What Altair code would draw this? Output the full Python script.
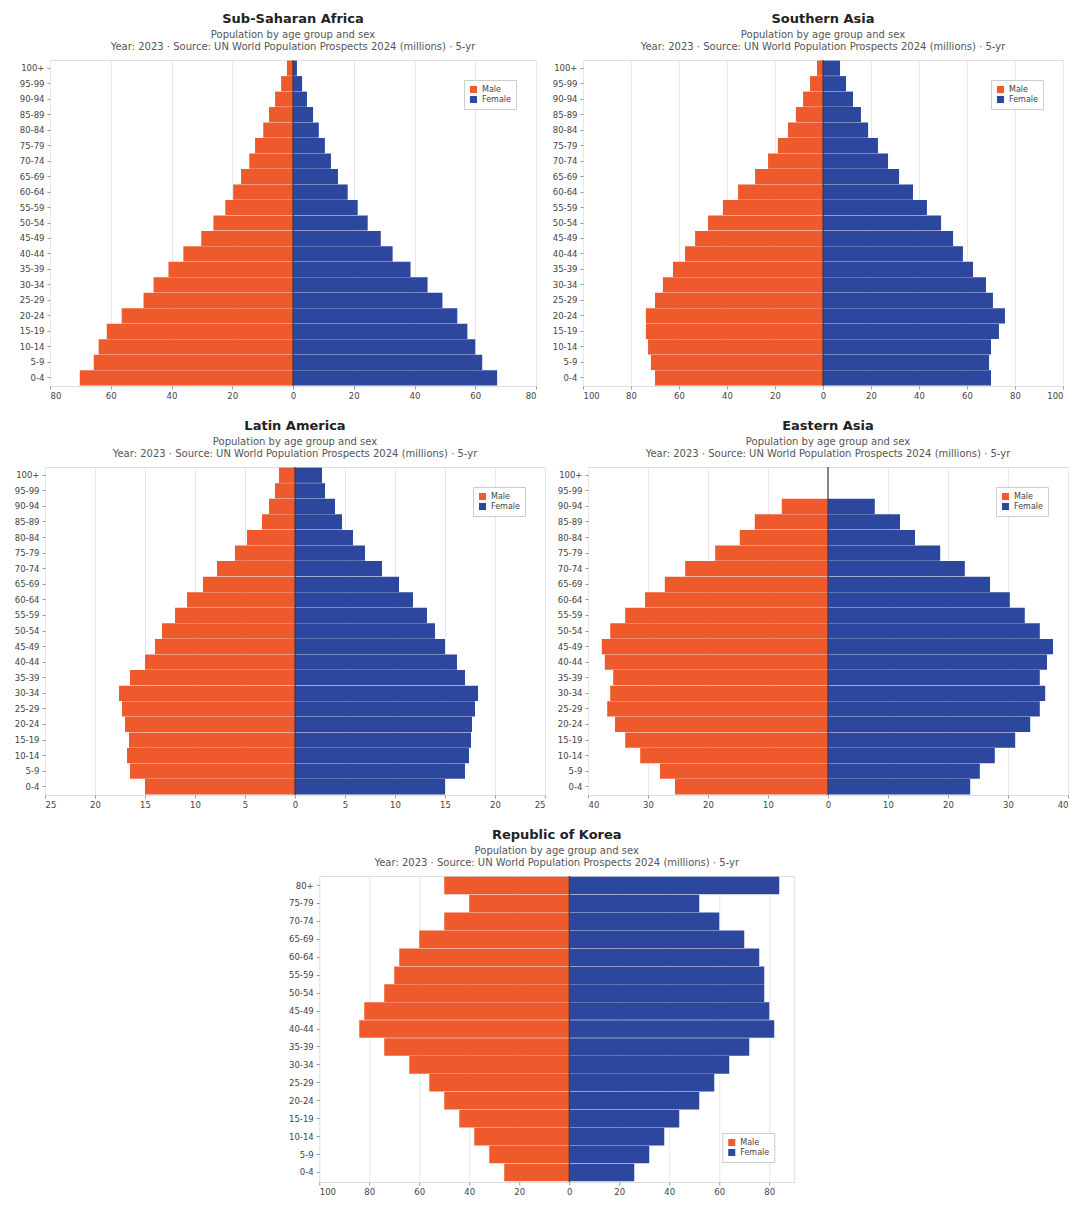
import altair as alt
import pandas as pd

AGES_21 = ["0-4", "5-9", "10-14", "15-19", "20-24", "25-29", "30-34", "35-39",
           "40-44", "45-49", "50-54", "55-59", "60-64", "65-69", "70-74",
           "75-79", "80-84", "85-89", "90-94", "95-99", "100+"]
AGES_17 = ["0-4", "5-9", "10-14", "15-19", "20-24", "25-29", "30-34", "35-39",
           "40-44", "45-49", "50-54", "55-59", "60-64", "65-69", "70-74",
           "75-79", "80+"]

# Panel 1
P1_MALE = [70.2, 65.6, 64.0, 61.3, 56.4, 49.2, 45.9, 41.0, 36.1, 30.2, 26.2,
           22.3, 19.7, 17.1, 14.4, 12.5, 9.8, 7.9, 5.9, 3.9, 2.0]
P1_FEMALE = [67.2, 62.3, 60.0, 57.4, 54.1, 49.2, 44.3, 38.7, 32.8, 28.9, 24.6,
             21.3, 18.0, 14.8, 12.5, 10.5, 8.5, 6.6, 4.6, 3.0, 1.3]
# Panel 2
P2_MALE = [70.0, 71.7, 72.9, 73.8, 73.8, 70.0, 66.7, 62.5, 57.5, 53.3, 47.9,
           41.7, 35.4, 28.3, 22.9, 18.8, 14.6, 11.3, 8.3, 5.4, 2.5]
P2_FEMALE = [70.0, 69.2, 70.0, 73.3, 75.8, 70.8, 67.9, 62.5, 58.3, 54.2, 49.2,
             43.3, 37.5, 31.7, 27.1, 22.9, 18.8, 15.8, 12.5, 9.6, 7.1]
# Panel 3
P3_MALE = [15.0, 16.5, 16.8, 16.6, 17.0, 17.3, 17.6, 16.5, 15.0, 14.0, 13.3,
           12.0, 10.8, 9.2, 7.8, 6.0, 4.8, 3.3, 2.6, 2.0, 1.6]
P3_FEMALE = [15.0, 17.0, 17.4, 17.6, 17.7, 18.0, 18.3, 17.0, 16.2, 15.0, 14.0,
             13.2, 11.8, 10.4, 8.7, 7.0, 5.8, 4.7, 4.0, 3.0, 2.7]
# Panel 4
P4_MALE = [25.5, 28.0, 31.3, 33.8, 35.5, 36.8, 36.3, 35.8, 37.2, 37.7, 36.3,
           33.8, 30.5, 27.2, 23.8, 18.8, 14.7, 12.2, 7.7, 0.0, 0.0]
P4_FEMALE = [23.7, 25.3, 27.8, 31.2, 33.7, 35.3, 36.2, 35.3, 36.5, 37.5, 35.3,
             32.8, 30.3, 27.0, 22.8, 18.7, 14.5, 12.0, 7.8, 0.0, 0.0]
# Panel 5
P5_MALE = [26.0, 32.0, 38.0, 44.0, 50.0, 56.0, 64.0, 74.0, 84.0, 82.0, 74.0,
           70.0, 68.0, 60.0, 50.0, 40.0, 50.0]
P5_FEMALE = [26.0, 32.0, 38.0, 44.0, 52.0, 58.0, 64.0, 72.0, 82.0, 80.0, 78.0,
             78.0, 76.0, 70.0, 60.0, 52.0, 84.0]

TITLES = ["Sub-Saharan Africa", "Southern Asia", "Latin America",
          "Eastern Asia", "Republic of Korea"]
SUB1 = "Population by age group and sex"
SUB2 = "Year: 2023 · Source: UN World Population Prospects 2024 (millions) · 5-yr"

ORANGE = "#EE5A2B"
BLUE = "#2E479E"
FONT = "DejaVu Sans"


def panel(title, ages, male, female, lo, hi, step, width, height, legend_orient):
    rows = []
    for a, m, f in zip(ages, male, female):
        rows.append({"Age": a, "Sex": "Male", "Value": -m})
        rows.append({"Age": a, "Sex": "Female", "Value": f})
    df = pd.DataFrame(rows)
    ticks = list(range(lo, hi + 1, step))
    xscale = alt.Scale(domain=[lo, hi], nice=False, zero=False)
    x = alt.X("Value:Q", scale=xscale,
              axis=alt.Axis(values=ticks, labelExpr="abs(datum.value)", title=None,
                            grid=True, gridColor="#e8e8e8", labelFontSize=8.5,
                            labelColor="#444", tickSize=3, tickColor="#999",
                            domain=False, labelPadding=2))
    y = alt.Y("Age:N", sort=ages[::-1],
              scale=alt.Scale(paddingInner=0.02, paddingOuter=0.04),
              axis=alt.Axis(title=None, labelFontSize=8.5, labelColor="#444",
                            tickSize=3, tickColor="#999", domain=False,
                            labelPadding=3))
    bars = alt.Chart(df).mark_bar().encode(
        x=x, y=y,
        color=alt.Color("Sex:N",
                        scale=alt.Scale(domain=["Male", "Female"], range=[ORANGE, BLUE]),
                        legend=alt.Legend(orient=legend_orient, title=None,
                                          offset=20, strokeColor="#cccccc",
                                          fillColor="white", padding=5,
                                          labelFontSize=8, labelColor="#444",
                                          symbolType="square", symbolSize=50,
                                          rowPadding=1)),
    )
    rule = alt.Chart(pd.DataFrame({"v": [0]})).mark_rule(
        color="#4a3346", strokeWidth=1.2).encode(x=alt.X("v:Q", scale=xscale))
    return alt.layer(bars, rule).properties(
        width=width, height=height,
        title=alt.TitleParams(text=title, subtitle=[SUB1, SUB2], anchor="middle",
                              fontSize=13, fontWeight="bold", color="#222",
                              font=FONT, subtitleFont=FONT, subtitleFontSize=10,
                              subtitleColor="#555", subtitlePadding=4, offset=7),
    )


p1 = panel(TITLES[0], AGES_21, P1_MALE, P1_FEMALE, -80, 80, 20, 486, 326, "top-right")
p2 = panel(TITLES[1], AGES_21, P2_MALE, P2_FEMALE, -100, 100, 20, 480, 326, "top-right")
p3 = panel(TITLES[2], AGES_21, P3_MALE, P3_FEMALE, -25, 25, 5, 500, 328, "top-right")
p4 = panel(TITLES[3], AGES_21, P4_MALE, P4_FEMALE, -40, 40, 10, 480, 328, "top-right")
p5 = panel(TITLES[4], AGES_17, P5_MALE, P5_FEMALE, -100, 90, 20, 475, 306, "bottom-right")

row1 = alt.hconcat(p1, p2, spacing=14).resolve_scale(color="independent").resolve_legend(color="independent")
row2 = alt.hconcat(p3, p4, spacing=10).resolve_scale(color="independent").resolve_legend(color="independent")
chart = alt.vconcat(row1, row2, p5, center=True, spacing=19).resolve_scale(
    color="independent").resolve_legend(color="independent").properties(
    padding={"left": 5, "top": 4, "right": 0, "bottom": 0}
).configure(
    font=FONT, background="white"
).configure_view(stroke="#dddddd")

chart.save("out.html", embed_options={"renderer": "svg", "actions": False})
